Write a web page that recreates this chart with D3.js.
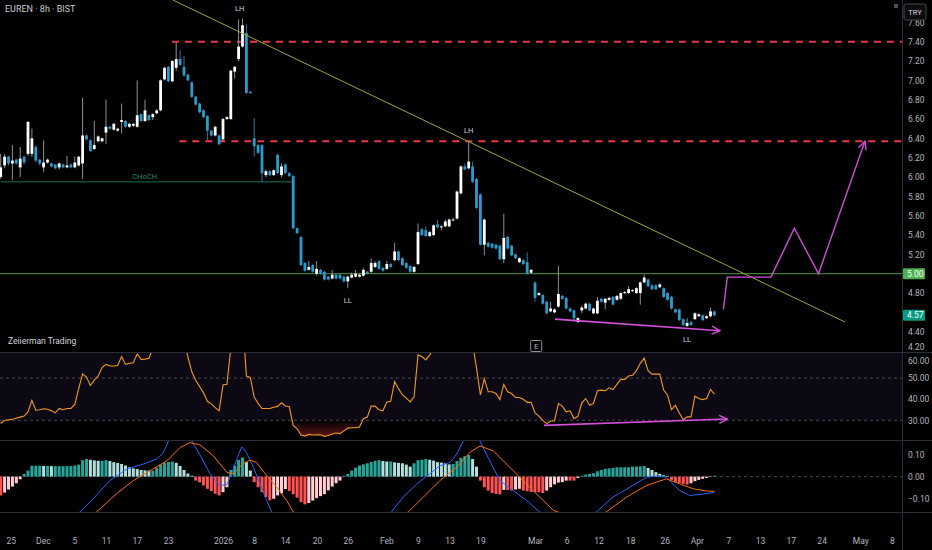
<!DOCTYPE html>
<html>
<head>
<meta charset="utf-8">
<script src="https://cdn.jsdelivr.net/npm/d3@7"></script>
<style>
  body { margin: 0; background: #000; }
  svg { display: block; font-family: Roboto, "Liberation Sans", sans-serif; }
</style>
</head>
<body>
<svg id="chart" width="932" height="550"></svg>
<script>
// EUREN 8h - candles, [open, high, low, close]
var bars = [
  [6.00,6.24,5.98,6.10],[6.12,6.24,6.09,6.21],[6.21,6.22,6.12,6.14],[6.14,6.33,5.97,6.17],[6.18,6.19,6.13,6.14],
  [6.10,6.31,6.00,6.19],[6.21,6.22,6.13,6.15],[6.24,6.58,6.22,6.57],[6.24,6.50,6.21,6.40],[6.31,6.33,6.15,6.17],
  [6.18,6.19,6.12,6.14],[6.10,6.38,6.05,6.15],[6.15,6.19,6.14,6.18],[6.14,6.15,6.10,6.11],[6.13,6.13,6.08,6.09],
  [6.10,6.15,6.08,6.14],[6.13,6.14,6.09,6.10],[6.10,6.22,6.09,6.12],[6.13,6.14,6.09,6.10],[6.10,6.21,6.09,6.15],
  [6.12,6.22,6.11,6.21],[6.14,6.82,5.98,6.43],[6.43,6.44,6.38,6.39],[6.38,6.39,6.26,6.27],[6.29,6.58,6.28,6.33],
  [6.37,6.43,6.36,6.42],[6.37,6.41,6.36,6.40],[6.46,6.80,6.34,6.52],[6.52,6.53,6.49,6.50],[6.49,6.56,6.48,6.55],
  [6.48,6.51,6.47,6.50],[6.57,6.76,6.45,6.59],[6.58,6.59,6.51,6.52],[6.52,6.56,6.51,6.55],[6.53,6.56,6.52,6.55],
  [6.52,7.00,6.51,6.64],[6.65,6.66,6.57,6.58],[6.58,6.80,6.57,6.69],[6.64,6.65,6.58,6.59],[6.62,6.66,6.59,6.65],
  [6.66,6.70,6.65,6.69],[6.69,7.01,6.68,7.00],[7.01,7.14,7.00,7.13],[7.14,7.15,6.98,6.99],[6.99,7.21,6.98,7.20],
  [7.13,7.39,7.10,7.22],[7.22,7.31,7.15,7.16],[7.14,7.25,7.04,7.05],[7.06,7.07,6.99,7.00],[6.98,6.99,6.82,6.83],
  [6.83,6.84,6.74,6.75],[6.76,6.77,6.66,6.67],[6.69,6.70,6.61,6.62],[6.63,6.64,6.38,6.48],[6.48,6.49,6.42,6.43],
  [6.43,6.53,6.42,6.52],[6.43,6.44,6.33,6.34],[6.39,6.61,6.37,6.60],[6.60,6.63,6.59,6.62],[6.60,7.11,6.59,7.10],
  [7.09,7.15,7.02,7.14],[7.22,7.63,7.20,7.35],[7.35,7.64,7.34,7.57],[7.49,7.58,6.86,6.87],[6.88,6.89,6.86,6.87],
  [6.40,6.61,6.21,6.32],[6.33,6.34,6.24,6.25],[6.33,6.34,5.95,6.04],[6.02,6.08,6.00,6.06],[6.06,6.07,6.01,6.02],
  [6.02,6.08,6.01,6.07],[6.23,6.24,6.03,6.04],[6.02,6.14,6.00,6.11],[6.13,6.14,6.03,6.04],[6.04,6.05,6.00,6.01],
  [6.01,6.02,5.46,5.47],[5.47,5.48,5.41,5.42],[5.38,5.39,5.08,5.09],[5.11,5.12,5.02,5.03],[5.04,5.13,5.03,5.07],
  [5.09,5.10,5.01,5.02],[5.00,5.13,4.98,5.05],[5.04,5.05,4.99,5.00],[5.02,5.03,4.93,4.94],[4.97,4.98,4.93,4.94],
  [4.95,5.04,4.94,4.99],[4.99,5.00,4.94,4.95],[4.99,5.00,4.94,4.95],[4.97,4.98,4.91,4.92],[4.92,4.98,4.85,4.97],
  [4.96,5.01,4.95,4.99],[4.97,5.04,4.96,5.00],[4.97,5.00,4.96,4.99],[4.98,5.06,4.97,5.04],[5.02,5.03,4.99,5.00],
  [5.02,5.16,5.01,5.11],[5.07,5.13,5.06,5.11],[5.13,5.14,5.04,5.05],[5.06,5.07,5.02,5.03],[5.05,5.13,5.04,5.10],
  [5.10,5.11,5.06,5.07],[5.14,5.32,5.13,5.23],[5.23,5.24,5.13,5.14],[5.16,5.17,5.08,5.09],[5.11,5.12,5.05,5.06],
  [5.08,5.09,5.01,5.02],[5.02,5.08,5.01,5.07],[5.10,5.52,5.09,5.43],[5.46,5.47,5.39,5.40],[5.45,5.49,5.38,5.39],
  [5.39,5.44,5.38,5.43],[5.40,5.51,5.39,5.50],[5.51,5.56,5.47,5.48],[5.48,5.50,5.45,5.49],[5.49,5.56,5.48,5.54],
  [5.49,5.57,5.48,5.56],[5.55,5.58,5.55,5.56],[5.57,5.86,5.56,5.85],[5.83,6.12,5.82,6.11],[6.11,6.14,6.07,6.08],
  [6.09,6.37,6.08,6.16],[6.11,6.16,5.94,5.95],[5.98,5.99,5.67,5.68],[5.82,5.83,5.29,5.30],[5.30,5.57,5.19,5.56],
  [5.32,5.33,5.27,5.28],[5.31,5.32,5.26,5.27],[5.30,5.31,5.25,5.26],[5.29,5.30,5.14,5.15],[5.15,5.62,5.11,5.37],
  [5.38,5.39,5.25,5.26],[5.29,5.30,5.18,5.19],[5.20,5.21,5.15,5.16],[5.12,5.17,5.11,5.16],[5.14,5.15,5.09,5.10],
  [5.12,5.22,4.99,5.00],[5.01,5.05,5.00,5.04],[4.91,4.92,4.71,4.75],[4.78,4.81,4.77,4.80],[4.78,4.79,4.68,4.69],
  [4.71,4.72,4.58,4.59],[4.61,4.71,4.60,4.64],[4.60,4.64,4.59,4.63],[4.66,5.08,4.65,4.79],[4.77,4.78,4.73,4.74],
  [4.75,4.76,4.63,4.64],[4.64,4.65,4.60,4.61],[4.62,4.63,4.50,4.54],[4.50,4.55,4.49,4.54],[4.62,4.67,4.59,4.65],
  [4.64,4.70,4.63,4.69],[4.69,4.70,4.61,4.62],[4.59,4.65,4.58,4.64],[4.59,4.76,4.58,4.72],[4.74,4.75,4.70,4.71],
  [4.70,4.75,4.63,4.74],[4.73,4.76,4.72,4.75],[4.76,4.77,4.67,4.68],[4.73,4.78,4.72,4.77],[4.74,4.81,4.73,4.80],
  [4.80,4.82,4.79,4.81],[4.80,4.87,4.79,4.84],[4.82,4.84,4.81,4.83],[4.80,4.86,4.79,4.85],[4.80,4.92,4.68,4.91],
  [4.91,4.99,4.90,4.96],[4.94,4.95,4.86,4.87],[4.88,4.89,4.83,4.84],[4.88,4.89,4.83,4.84],[4.86,4.90,4.85,4.89],
  [4.85,4.86,4.75,4.76],[4.80,4.81,4.72,4.73],[4.76,4.77,4.63,4.64],[4.63,4.64,4.59,4.60],[4.63,4.64,4.51,4.52],
  [4.53,4.54,4.46,4.47],[4.46,4.54,4.45,4.49],[4.50,4.51,4.46,4.47],[4.53,4.60,4.52,4.59],[4.56,4.59,4.55,4.58],
  [4.57,4.58,4.51,4.52],[4.54,4.57,4.53,4.56],[4.56,4.65,4.55,4.61],[4.61,4.62,4.56,4.57]
];

// RSI(14), one value per bar
var rsi = [
  28.5,30,30.2,30.5,31,31.5,32,34,39.5,34.8,35,35.5,35.2,34.5,33.5,35.6,35,35.6,35.6,37.5,
  45,52,50.5,46.5,49,51,55,56.5,55.7,55.7,56,60.2,56.5,57,57.3,61.4,58.9,59,59.4,64,
  66,70,73,70,74,75,72,68,60,53,49,46,43,39,37.8,36,34.5,46.7,47.1,64,
  70,75,79,51,50.3,41,38,35.6,35.6,35.6,36.2,36.6,38.3,36.8,36.4,27.6,26,23,22.5,23.3,
  23,23.1,23.1,22.4,22.8,23.5,24,23.7,25,26.3,26.5,26.5,26.8,30.8,31.5,36.7,36.7,35,34.5,38.7,
  39,48.3,45,42,40.5,38.7,41.1,61,60.2,58.6,61,64,65,65.5,67,68,68.5,74,79,78,
  80,66,55,42,49.8,43.5,43.5,42.7,39.8,47,43.5,42.7,40.8,40.8,40,38.5,38.5,33.5,32,30,
  28.4,29.7,29.7,37.9,36.7,34,34.5,30.8,31.9,38.3,40.3,37.1,38,44,44.3,44,45.4,44.6,47,49.4,
  49.4,51,51.3,53.5,57,59.4,53.5,51.9,51.9,51.9,44.3,41.9,35.1,37.1,33.5,30.3,31.6,31.6,41.4,40.3,
  39.8,40.3,44.6,42.4
];

// MACD histogram, one value per bar
var macdHist = [
  -0.085,-0.072,-0.058,-0.045,-0.030,-0.012,0.012,0.027,0.049,0.049,0.049,0.048,0.048,0.047,0.047,0.047,0.047,0.047,0.048,0.050,
  0.054,0.074,0.079,0.076,0.073,0.071,0.071,0.074,0.070,0.065,0.061,0.057,0.050,0.042,0.037,0.034,0.030,0.028,0.027,0.027,
  0.040,0.054,0.062,0.066,0.068,0.062,0.048,0.030,0.014,0.004,-0.018,-0.026,-0.040,-0.055,-0.065,-0.077,-0.085,-0.070,-0.048,0.030,
  0.050,0.075,0.086,0.065,0.027,-0.025,-0.048,-0.070,-0.092,-0.107,-0.100,-0.085,-0.075,-0.056,-0.065,-0.080,-0.095,-0.115,-0.125,-0.119,
  -0.108,-0.097,-0.088,-0.079,-0.062,-0.045,-0.030,-0.018,0.004,0.012,0.027,0.040,0.050,0.055,0.060,0.066,0.071,0.074,0.070,0.068,
  0.068,0.064,0.062,0.060,0.054,0.045,0.060,0.074,0.076,0.079,0.076,0.072,0.065,0.063,0.060,0.055,0.057,0.070,0.085,0.092,
  0.097,0.079,0.045,-0.018,-0.048,-0.063,-0.074,-0.078,-0.080,-0.060,-0.060,-0.063,-0.058,-0.055,-0.063,-0.066,-0.069,-0.070,-0.070,-0.074,
  -0.063,-0.048,-0.035,-0.027,-0.025,-0.018,-0.018,-0.018,-0.006,0.004,0.009,0.012,0.015,0.024,0.030,0.035,0.037,0.039,0.042,0.042,
  0.042,0.042,0.045,0.045,0.046,0.048,0.039,0.030,0.020,0.013,0.006,0.002,-0.015,-0.025,-0.030,-0.033,-0.036,-0.030,-0.021,-0.015,
  -0.010,-0.006,-0.002,0.004
];

// MACD and signal lines, [bar, value] points
var macdLine = [
  [1,-0.26],[10,-0.23],[21.3,-0.16],[24.7,-0.10],[29,-0.018],[33.3,0.034],[37.6,0.057],[41,0.079],[42.7,0.108],[44,0.16],
  [47,0.2],[50,0.16],[52,0.101],[54.7,0.012],[57.2,-0.04],[59,-0.036],[60.2,0.012],[61.7,0.086],[62.8,0.134],[64,0.109],
  [65.8,0.042],[67.5,-0.033],[69.2,-0.107],[70.5,-0.159],[80,-0.3],[90,-0.3],[101.2,-0.159],[104.2,-0.092],[107.7,-0.033],[111,0.012],
  [113.6,0.049],[116.2,0.064],[117.9,0.101],[119.6,0.16],[121.5,0.2],[123.9,0.16],[126.4,0.071],[129,-0.018],[132.4,-0.063],[135.8,-0.107],
  [139.2,-0.159],[146,-0.22],[153.8,-0.159],[158,-0.092],[162.3,-0.048],[166.6,-0.003],[169.5,0.004],[171.7,-0.003],[175.1,-0.063],[177.7,-0.085],
  [180.3,-0.08],[184,-0.072]
];
var signalLine = [
  [1,-0.28],[15,-0.24],[25.6,-0.159],[30.7,-0.077],[35,-0.018],[39.3,0.027],[43.6,0.071],[47,0.131],[49.5,0.153],[52.1,0.143],
  [55.5,0.094],[59,0.019],[60.7,0.012],[63.2,0.06],[65,0.074],[66.6,0.064],[69.2,0.004],[71.8,-0.048],[74.3,-0.107],[76,-0.159],
  [90,-0.3],[105.5,-0.159],[109.4,-0.092],[113.6,-0.018],[117.9,0.042],[121.3,0.109],[123.9,0.138],[127.3,0.116],[132.4,0.027],[137.5,-0.063],
  [142.7,-0.152],[150,-0.2],[156.3,-0.159],[161.5,-0.092],[166.6,-0.04],[171.7,-0.01],[175.1,-0.033],[178.6,-0.055],[182,-0.065],[184,-0.067]
];

// axis ticks (4.60 sits under the last-price tag, so it is not listed)
var priceTicks = [4.2,4.4,4.8,5.2,5.4,5.6,5.8,6.0,6.2,6.4,6.6,6.8,7.0,7.2,7.4,7.6];
var rsiTicks = [30,40,50,60];
var macdTicks = [-0.1,0,0.1];
var timeTicks = [
  ['25',3.6],['Dec',11.8],['5',19.9],['11',28],['17',35.9],['23',43.9],['2026',58],['8',66],['14',73.9],
  ['20',82.1],['26',90],['Feb',99.9],['9',108],['13',116.1],['19',124],['Mar',138],['6',146.1],['12',154.3],
  ['18',162.4],['26',171.3],['Apr',179.5],['7',187.6],['13',195.7],['17',203.6],['24',211.5],['May',221.4],['8',229.5]
];

// drawings on the price pane
var pivots = [['LH',62.3,7.64],['LH',121,6.37],['LL',90,4.85],['LL',177,4.45]];
var resistance = [[44.9,7.40],[46.8,6.37]];
var chochLevel = [[1,5.95],[75.8,5.95]];
var keyLevel = 5.00;
var lastPrice = 4.57;
var trendLine = [[45.2,7.83],[217.5,4.50]];
var projection = [[186.3,4.63],[187.3,4.965],[198.5,4.965],[204.5,5.47],[210.7,5.0],[222.6,6.37]];
var priceDivergence = [[143.1,4.53],[185.4,4.41]];
var rsiDivergence = [[140.3,27.6],[187.3,30.6]];
var earningsBar = 138.3;

var W = 932, H = 550, plotRight = 902;
var svg = d3.select('#chart');
svg.append('rect').attr('width', W).attr('height', H).attr('fill', '#000');

var x = d3.scaleLinear().domain([1, 184]).range([0.7, 714.4]);
var yP = d3.scaleLinear().domain([4.4, 7.4]).range([331.7, 41.7]);
var yR = d3.scaleLinear().domain([30, 60]).range([420.3, 357]);
var yM = d3.scaleLinear().domain([-0.1, 0.1]).range([498.8, 454.4]);

var defs = svg.append('defs');
function clip(id, y0, y1) {
    defs.append('clipPath').attr('id', id)
        .append('rect').attr('x', 0).attr('y', y0).attr('width', plotRight).attr('height', y1 - y0);
}
clip('cp-price', 0, 352);
clip('cp-rsi', 353, 440);
clip('cp-macd', 441, 512);

// arrow heads
defs.append('marker').attr('id', 'arrow')
    .attr('viewBox', '0 0 10 10').attr('refX', 9).attr('refY', 5)
    .attr('markerWidth', 10).attr('markerHeight', 10)
    .attr('markerUnits', 'userSpaceOnUse').attr('orient', 'auto')
    .append('path').attr('d', 'M1,1 L9,5 L1,9')
    .attr('fill', 'none').attr('stroke', '#d54fdb').attr('stroke-width', 1.4);

var grad = defs.append('linearGradient').attr('id', 'osGrad')
    .attr('gradientUnits', 'userSpaceOnUse')
    .attr('x1', 0).attr('x2', 0).attr('y1', yR(30)).attr('y2', yR(21));
grad.append('stop').attr('offset', 0).attr('stop-color', 'rgba(242,54,69,0)');
grad.append('stop').attr('offset', 1).attr('stop-color', 'rgba(242,54,69,0.45)');

// ---------- price pane ----------
var gP = svg.append('g').attr('clip-path', 'url(#cp-price)');

var line2 = d3.line().x(function(d) { return x(d[0]); }).y(function(d) { return yP(d[1]); });

gP.append('line')
    .attr('x1', 0).attr('x2', plotRight)
    .attr('y1', yP(keyLevel)).attr('y2', yP(keyLevel))
    .attr('stroke', '#56993f').attr('stroke-width', 1);

gP.append('path').attr('d', line2(chochLevel))
    .attr('stroke', '#12745a').attr('stroke-width', 1).attr('fill', 'none');
gP.append('text').attr('x', x(37.9)).attr('y', yP(5.95) - 2.5)
    .attr('text-anchor', 'middle').attr('font-size', 7.5).attr('fill', '#1c8b69').text('CHoCH');

gP.selectAll('line.res').data(resistance).enter().append('line')
    .attr('class', 'res')
    .attr('x1', function(d) { return x(d[0]); }).attr('x2', plotRight)
    .attr('y1', function(d) { return yP(d[1]); }).attr('y2', function(d) { return yP(d[1]); })
    .attr('stroke', '#e8394b').attr('stroke-width', 2).attr('stroke-dasharray', '7,6');

// candles
var cw = 2.8;
var cg = gP.selectAll('g.c').data(bars).enter().append('g').attr('class', 'c');
cg.append('line')
    .attr('x1', function(d, i) { return x(i + 1); }).attr('x2', function(d, i) { return x(i + 1); })
    .attr('y1', function(d) { return yP(d[1]); }).attr('y2', function(d) { return yP(d[2]); })
    .attr('stroke', function(d) { return d[3] >= d[0] ? '#8d9099' : '#2d74ad'; })
    .attr('stroke-width', 1);
cg.append('rect')
    .attr('x', function(d, i) { return x(i + 1) - cw / 2; })
    .attr('width', cw)
    .attr('y', function(d) { return yP(Math.max(d[0], d[3])); })
    .attr('height', function(d) { return Math.max(1, Math.abs(yP(d[0]) - yP(d[3]))); })
    .attr('fill', function(d) { return d[3] >= d[0] ? '#ffffff' : '#2a9bcc'; });

gP.append('path').attr('d', line2(trendLine))
    .attr('stroke', '#a3a23e').attr('stroke-width', 1).attr('fill', 'none');

gP.append('path').attr('d', line2(projection))
    .attr('stroke', '#cd4fd6').attr('stroke-width', 1.4).attr('fill', 'none')
    .attr('marker-end', 'url(#arrow)');

gP.append('path').attr('d', line2(priceDivergence))
    .attr('stroke', '#d54fdb').attr('stroke-width', 1.6).attr('fill', 'none')
    .attr('marker-end', 'url(#arrow)');

gP.selectAll('text.pv').data(pivots).enter().append('text')
    .attr('class', 'pv')
    .attr('x', function(d) { return x(d[1]); })
    .attr('y', function(d) { return d[0] === 'LH' ? yP(d[2]) - 8 : yP(d[2]) + 15; })
    .attr('text-anchor', 'middle').attr('font-size', 7.5).attr('fill', '#d1d4dc')
    .text(function(d) { return d[0]; });

svg.append('text').attr('x', 5).attr('y', 12).attr('font-size', 9).attr('fill', '#c8cad0')
    .text('EUREN \u00b7 8h \u00b7 BIST');
svg.append('text').attr('x', 8).attr('y', 344).attr('font-size', 8.5).attr('fill', '#d1d4dc')
    .text('Zeiierman Trading');

var eg = svg.append('g').attr('transform', 'translate(' + (x(earningsBar) - 5.5) + ',340.5)');
eg.append('rect').attr('width', 11).attr('height', 11).attr('rx', 1)
    .attr('fill', '#000').attr('stroke', '#8a8d96').attr('stroke-width', 1);
eg.append('text').attr('x', 5.5).attr('y', 8.5).attr('text-anchor', 'middle')
    .attr('font-size', 8).attr('fill', '#b2b5be').text('E');

// ---------- RSI pane ----------
var gR = svg.append('g').attr('clip-path', 'url(#cp-rsi)');
gR.append('rect').attr('x', 0).attr('width', plotRight)
    .attr('y', yR(70)).attr('height', yR(30) - yR(70))
    .attr('fill', 'rgba(126,87,194,0.1)');
gR.selectAll('line.rl').data([70, 50, 30]).enter().append('line')
    .attr('class', 'rl')
    .attr('x1', 0).attr('x2', plotRight)
    .attr('y1', function(d) { return yR(d); }).attr('y2', function(d) { return yR(d); })
    .attr('stroke', 'rgba(120,123,134,0.55)').attr('stroke-dasharray', '3,3');

gR.append('path').datum(rsi)
    .attr('d', d3.area()
        .x(function(d, i) { return x(i + 1); })
        .y0(yR(30))
        .y1(function(d) { return yR(Math.min(d, 30)); }))
    .attr('fill', 'url(#osGrad)');

gR.append('path').datum(rsi)
    .attr('d', d3.line().x(function(d, i) { return x(i + 1); }).y(function(d) { return yR(d); }))
    .attr('fill', 'none').attr('stroke', '#f29a1f').attr('stroke-width', 1.1);

gR.append('path').attr('d', d3.line().x(function(d) { return x(d[0]); }).y(function(d) { return yR(d[1]); })(rsiDivergence))
    .attr('stroke', '#d54fdb').attr('stroke-width', 1.6).attr('fill', 'none')
    .attr('marker-end', 'url(#arrow)');

// ---------- MACD pane ----------
var gM = svg.append('g').attr('clip-path', 'url(#cp-macd)');
gM.append('line').attr('x1', 0).attr('x2', plotRight)
    .attr('y1', yM(0)).attr('y2', yM(0))
    .attr('stroke', 'rgba(120,123,134,0.55)').attr('stroke-dasharray', '3,3');

function histColor(d, i) {
    var prev = i > 0 ? macdHist[i - 1] : d;
    if (d >= 0) return d >= prev ? '#26a69a' : '#b2dfdb';
    return d <= prev ? '#ff5252' : '#ffcdd2';
}
gM.selectAll('rect.h').data(macdHist).enter().append('rect')
    .attr('class', 'h')
    .attr('x', function(d, i) { return x(i + 1) - 1.5; })
    .attr('width', 3)
    .attr('y', function(d) { return Math.min(yM(0), yM(d)); })
    .attr('height', function(d) { return Math.abs(yM(d) - yM(0)); })
    .attr('fill', histColor);

var lineM = d3.line().x(function(d) { return x(d[0]); }).y(function(d) { return yM(d[1]); });
gM.append('path').attr('d', lineM(macdLine))
    .attr('fill', 'none').attr('stroke', '#2962ff').attr('stroke-width', 1);
gM.append('path').attr('d', lineM(signalLine))
    .attr('fill', 'none').attr('stroke', '#ff6d00').attr('stroke-width', 1);

// ---------- separators ----------
var sep = '#2a2e39';
svg.append('line').attr('x1', plotRight + 0.5).attr('x2', plotRight + 0.5).attr('y1', 0).attr('y2', H).attr('stroke', sep);
[352.5, 440.5, 512.5].forEach(function(yy) {
    svg.append('line').attr('x1', 0).attr('x2', W).attr('y1', yy).attr('y2', yy).attr('stroke', sep);
});

// ---------- axes ----------
function styleAxis(g) {
    g.select('.domain').remove();
    g.selectAll('text').attr('fill', '#b2b5be').attr('font-size', 8.5)
        .attr('font-family', 'Roboto, "Liberation Sans", sans-serif');
}
var pAxis = svg.append('g').attr('transform', 'translate(' + (plotRight + 1) + ',0)')
    .call(d3.axisRight(yP).tickValues(priceTicks).tickSize(0).tickPadding(5).tickFormat(d3.format('.2f')))
    .call(styleAxis);
// lowest price label shares the pane border with the RSI scale: nudge it up
pAxis.selectAll('.tick').filter(function(d) { return d === 4.2; }).select('text').attr('dy', '-0.15em');
var rAxis = svg.append('g').attr('transform', 'translate(' + (plotRight + 1) + ',0)')
    .call(d3.axisRight(yR).tickValues(rsiTicks).tickSize(0).tickPadding(5).tickFormat(d3.format('.2f')))
    .call(styleAxis);
rAxis.selectAll('.tick').filter(function(d) { return d === 60; }).select('text').attr('dy', '0.75em');
svg.append('g').attr('transform', 'translate(' + (plotRight + 1) + ',0)')
    .call(d3.axisRight(yM).tickValues(macdTicks).tickSize(0).tickPadding(5).tickFormat(d3.format('.2f')))
    .call(styleAxis);

var tickMap = {};
timeTicks.forEach(function(t) { tickMap[t[1]] = t[0]; });
svg.append('g').attr('transform', 'translate(0,512)')
    .call(d3.axisBottom(x).tickValues(timeTicks.map(function(t) { return t[1]; }))
        .tickSize(0).tickPadding(26).tickFormat(function(d) { return tickMap[d]; }))
    .call(styleAxis);

// price labels on the axis
function priceTag(v, fill) {
    var g = svg.append('g').attr('transform', 'translate(' + (plotRight + 1) + ',' + yP(v) + ')');
    g.append('rect').attr('x', 0).attr('y', -5.5).attr('width', 22).attr('height', 11).attr('rx', 1).attr('fill', fill);
    g.append('text').attr('x', 4).attr('y', 3).attr('font-size', 8.5).attr('fill', '#ffffff').text(d3.format('.2f')(v));
}
priceTag(keyLevel, '#4caf50');
priceTag(lastPrice, '#089981');

// currency button
var tb = svg.append('g').attr('transform', 'translate(904,4)');
tb.append('rect').attr('width', 22).attr('height', 16).attr('rx', 2)
    .attr('fill', '#0c0c0c').attr('stroke', '#434651');
tb.append('text').attr('x', 11).attr('y', 11).attr('text-anchor', 'middle')
    .attr('font-size', 7.5).attr('fill', '#d1d4dc').text('TRY');
svg.append('rect').attr('x', 894).attr('y', 4).attr('width', 4).attr('height', 4).attr('fill', '#4a4d56');
</script>
</body>
</html>
